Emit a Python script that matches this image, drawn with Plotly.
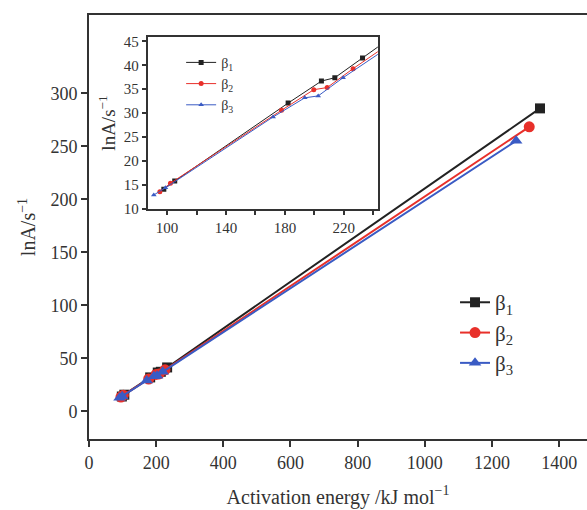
import plotly.graph_objects as go

# Data (activation energy kJ/mol, lnA/s^-1)
b1_x = [97.8, 105.2, 182.2, 204.8, 213.9, 232.7, 1343]
b1_y = [14.1, 15.8, 32.1, 36.7, 37.4, 41.5, 285.9]
b2_x = [95.1, 102.3, 177.7, 199.6, 208.7, 226.3, 1311]
b2_y = [13.6, 15.35, 30.6, 34.9, 35.35, 39.3, 268.5]
b3_x = [91.0, 98.9, 172.0, 193.5, 202.6, 219.5, 1272]
b3_y = [12.9, 14.4, 29.2, 33.2, 33.6, 37.4, 255.3]

names = ["β<sub>1</sub>", "β<sub>2</sub>", "β<sub>3</sub>"]
colors = ["#222222", "#e8302a", "#3a5bc4"]
symbols = ["square", "circle", "triangle-up"]
xs = [b1_x, b2_x, b3_x]
ys = [b1_y, b2_y, b3_y]

FONT = "Liberation Serif"
fig = go.Figure()

for i in range(3):
    fig.add_trace(go.Scatter(
        x=xs[i], y=ys[i], mode="lines+markers", name=names[i],
        line=dict(color=colors[i], width=2),
        marker=dict(symbol=symbols[i], size=10 if i == 0 else 11, color=colors[i]),
        xaxis="x", yaxis="y", legend="legend",
    ))
for i in range(3):
    fig.add_trace(go.Scatter(
        x=xs[i], y=ys[i], mode="lines+markers", name=names[i],
        line=dict(color=colors[i], width=1),
        marker=dict(symbol=symbols[i], size=5, color=colors[i]),
        xaxis="x2", yaxis="y2", legend="legend2",
    ))

axis_common = dict(showline=True, linecolor="#333", linewidth=2, ticks="outside",
                   tickcolor="#333", tickwidth=1.5, showgrid=False, zeroline=False)

fig.update_layout(
    width=587, height=510,
    margin=dict(l=89, r=0, t=15, b=71),
    plot_bgcolor="white", paper_bgcolor="white",
    font=dict(family=FONT, color="#333"),
    xaxis=dict(domain=[0, 1], range=[0, 1483], tickvals=[0, 200, 400, 600, 800, 1000, 1200, 1400],
               ticklen=6, mirror=True, tickfont=dict(size=18),
               title=dict(text="Activation energy /kJ mol<sup>−1</sup>", font=dict(size=20), standoff=18),
               **axis_common),
    yaxis=dict(domain=[0, 1], range=[-26, 374], tickvals=[0, 50, 100, 150, 200, 250, 300],
               ticklen=6, mirror=False, tickfont=dict(size=18),
               title=dict(text="lnA/s<sup>−1</sup>", font=dict(size=20), standoff=9),
               **axis_common),
    xaxis2=dict(domain=[0.118, 0.580], anchor="y2", range=[86.9, 243.1],
                tickvals=[100, 140, 180, 220], ticklen=4, mirror=True, tickfont=dict(size=15),
                minor=dict(tickvals=[120, 160, 200, 240], ticks="outside", ticklen=4, tickcolor="#333"),
                **axis_common),
    yaxis2=dict(domain=[0.5428, 0.948], anchor="x2", range=[10, 45.9],
                tickvals=[10, 15, 20, 25, 30, 35, 40, 45], ticklen=4, mirror=True, tickfont=dict(size=15),
                title=dict(text="lnA/s<sup>−1</sup>", font=dict(size=19), standoff=3),
                **axis_common),
    legend=dict(x=0.735, y=0.37, xanchor="left", yanchor="top", font=dict(size=21),
                bgcolor="rgba(0,0,0,0)", tracegroupgap=0),
    legend2=dict(x=0.185, y=0.925, xanchor="left", yanchor="top", font=dict(size=14),
                 bgcolor="rgba(0,0,0,0)", itemwidth=30),
)

fig.write_html("out.html", post_script="document.body.style.margin='0';",
               config={"displayModeBar": False})
